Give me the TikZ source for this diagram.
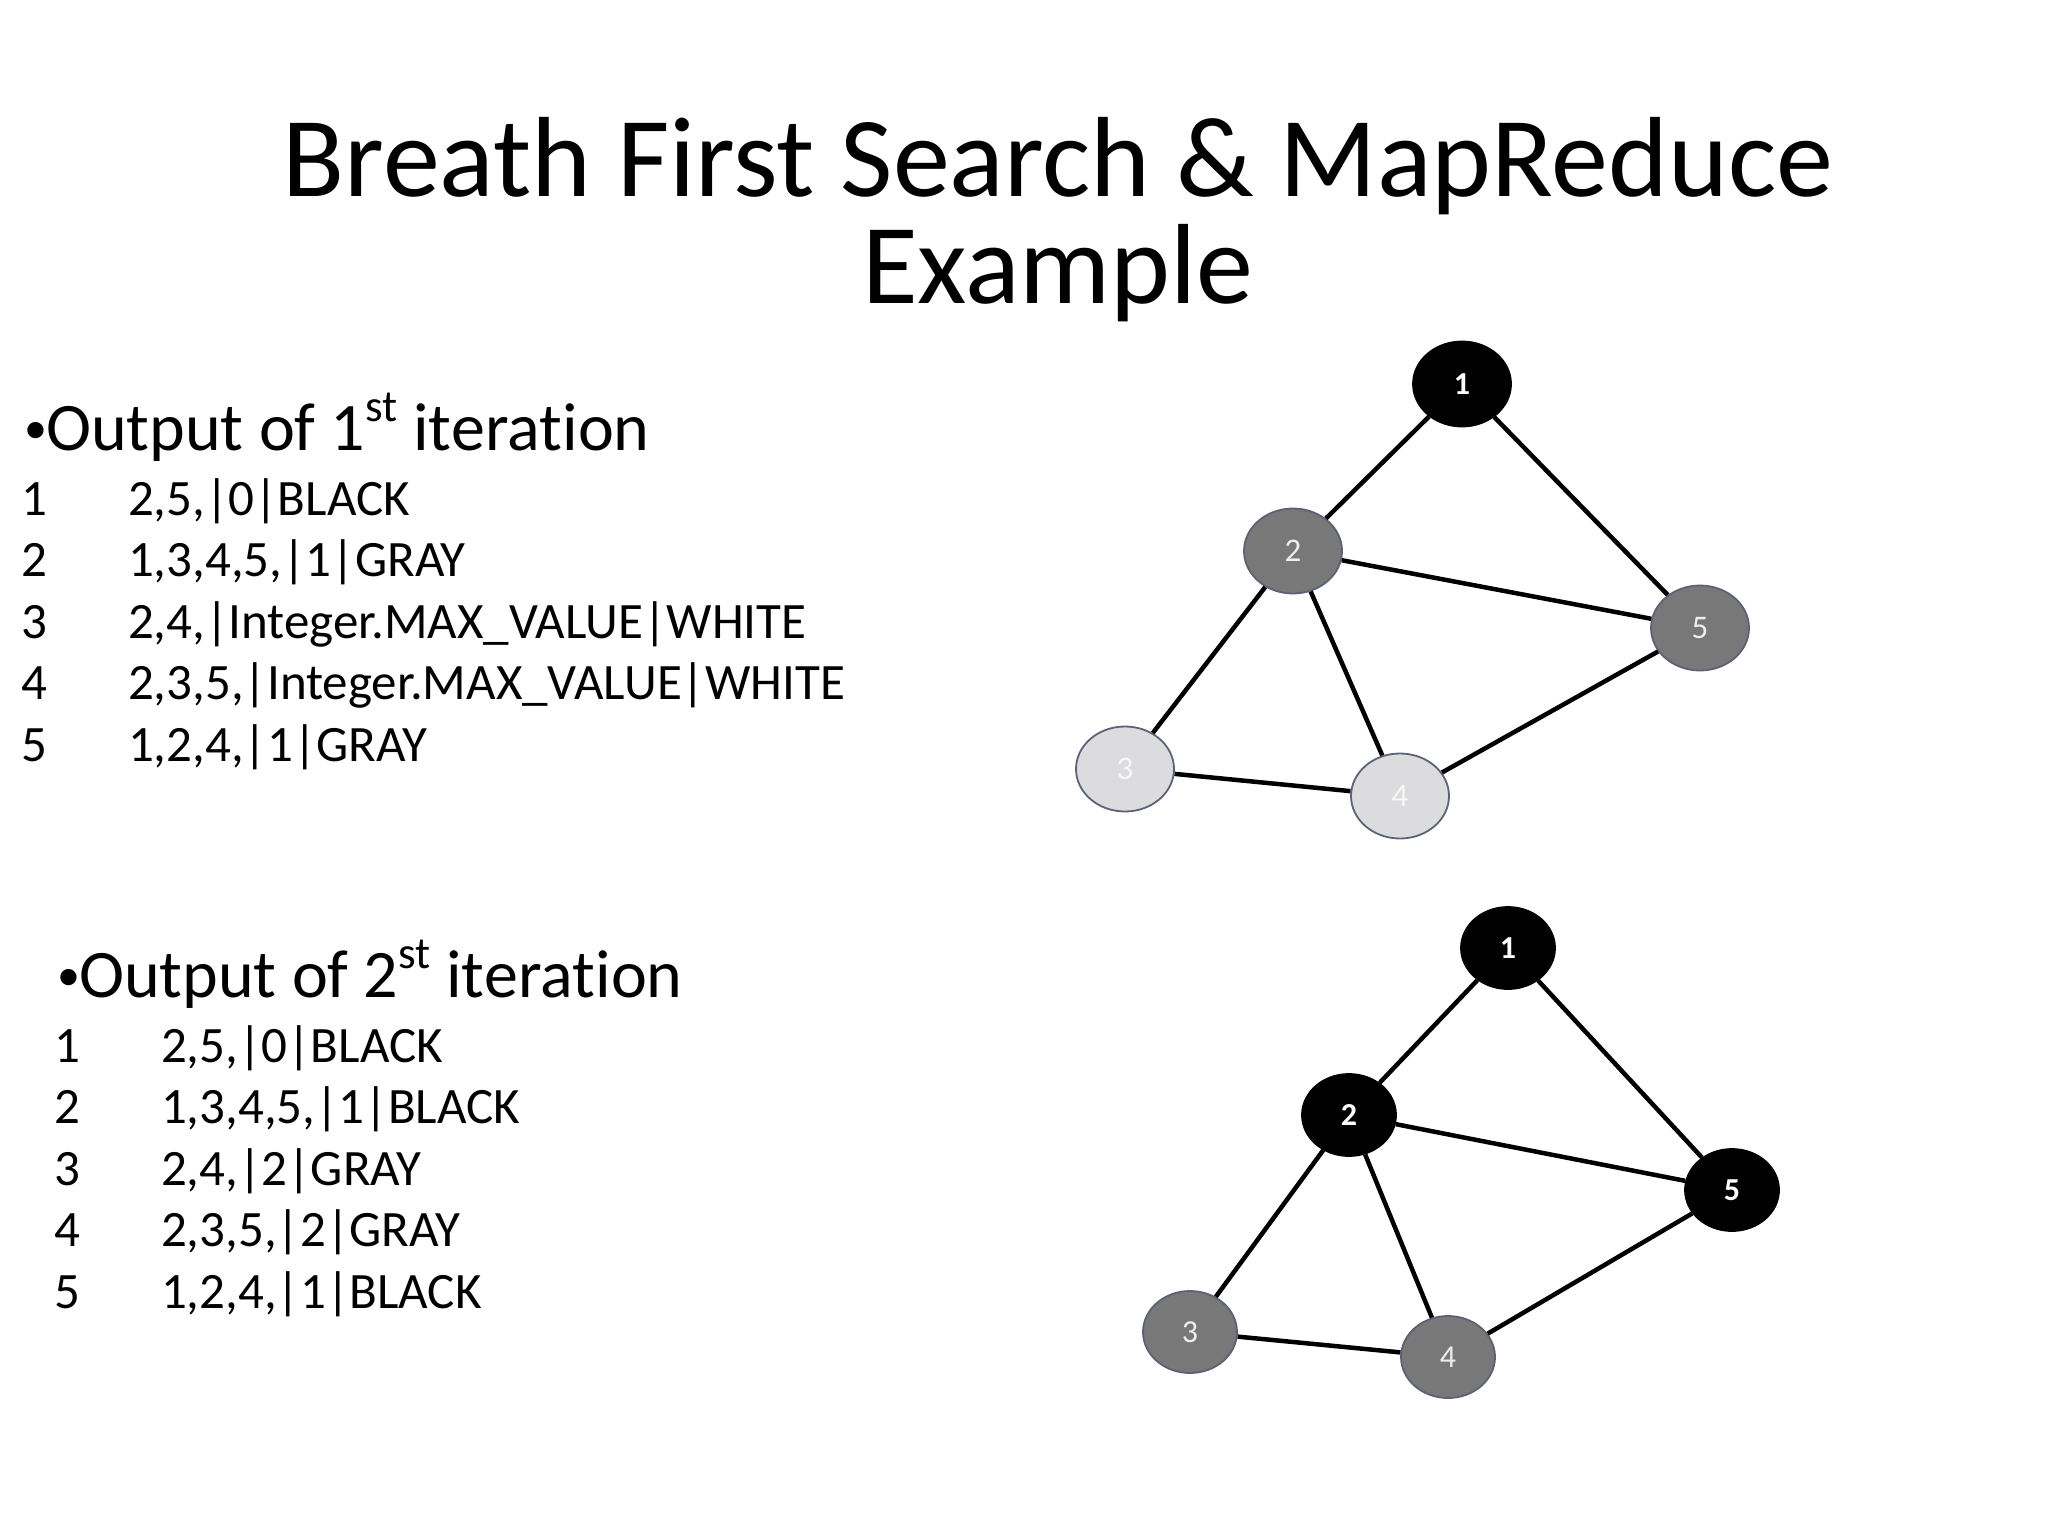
\documentclass[tikz,border=0pt]{standalone}
\usepackage{fontspec}
\setmainfont{Carlito}[Ligatures={NoCommon,NoContextual},Contextuals={NoAlternate}]
\usetikzlibrary{shapes.geometric}
\definecolor{nodegray}{HTML}{787878}
\definecolor{nodelight}{HTML}{DCDCDE}
\definecolor{rimgray}{HTML}{5B6274}
\definecolor{rimlight}{HTML}{5A6479}
\definecolor{labgray}{HTML}{EEEEEE}
\definecolor{lablight}{HTML}{F7F7F7}
\newcommand{\mybul}{\makebox[22pt][l]{\raisebox{7pt}{\fontsize{46}{46}\selectfont •}}}
\newcommand{\mysup}[1]{\raisebox{0.42em}{\fontsize{45}{45}\selectfont #1}}
\tikzset{
  txt/.style={inner sep=0pt, outer sep=0pt, anchor=base west},
  ttl/.style={inner sep=0pt, outer sep=0pt, anchor=base, font=\fontsize{114}{107}\selectfont},
  head/.style={txt, font=\fontsize{68}{68}\selectfont},
  row/.style={txt, font=\fontsize{51}{51}\selectfont},
  vnode/.style={ellipse, inner sep=0pt, minimum width=98pt, minimum height=85pt, line width=1.8pt, font=\fontsize{33}{33}\selectfont},
  vnodeb/.style={ellipse, inner sep=0pt, minimum width=94pt, minimum height=82pt, line width=1.8pt, font=\fontsize{32}{32}\selectfont},
  blk/.style={fill=black, draw=black, text=white, font=\fontsize{32}{32}\selectfont\bfseries},
  gry/.style={fill=nodegray, draw=rimgray, text=labgray},
  lgt/.style={fill=nodelight, draw=rimlight, text=lablight},
  edge/.style={line width=4.5pt, black}
}
\begin{document}
\begin{tikzpicture}[x=1pt, y=-1pt]
\useasboundingbox (0,0) rectangle (2048,1536);
\fill[white] (0,0) rectangle (2048,1536);

% title
\node[ttl] (t1) at (1058,196) {Breath First Search \& MapReduce};
\node[ttl] (t2) at (1058,303) {Example};

% first iteration
\node[head] (h1) at (24,450) {\mybul Output of 1\mysup{st} it\kern0pt eration};
\node[row] (a1) at (21,515) {1};
\node[row] (b1) at (128,515) {2,5,|0|BLACK};
\node[row] (a2) at (21,576.6) {2};
\node[row] (b2) at (128,576.6) {1,3,4,5,|1|GRAY};
\node[row] (a3) at (21,638.2) {3};
\node[row] (b3) at (128,638.2) {2,4,|Integer.MAX\_VALUE|WHITE};
\node[row] (a4) at (21,699.8) {4};
\node[row] (b4) at (128,699.8) {2,3,5,|Integer.MAX\_VALUE|WHITE};
\node[row] (a5) at (21,761.4) {5};
\node[row] (b5) at (128,761.4) {1,2,4,|1|GRAY};

% second iteration
\node[head] (h2) at (57,997) {\mybul Output of 2\mysup{st} it\kern0pt eration};
\node[row] (c1) at (54,1062) {1};
\node[row] (d1) at (161,1062) {2,5,|0|BLACK};
\node[row] (c2) at (54,1123.6) {2};
\node[row] (d2) at (161,1123.6) {1,3,4,5,|1|BLACK};
\node[row] (c3) at (54,1185.2) {3};
\node[row] (d3) at (161,1185.2) {2,4,|2|GRAY};
\node[row] (c4) at (54,1246.8) {4};
\node[row] (d4) at (161,1246.8) {2,3,5,|2|GRAY};
\node[row] (c5) at (54,1308.4) {5};
\node[row] (d5) at (161,1308.4) {1,2,4,|1|BLACK};

% graph 1
\node[vnode, blk] (p1) at (1462,384) {1};
\node[vnode, gry] (p2) at (1293,551) {2};
\node[vnode, gry] (p5) at (1700,628) {5};
\node[vnode, lgt] (p3) at (1125,769) {3};
\node[vnode, lgt] (p4) at (1400,796) {4};
\draw[edge] (p1) -- (p2);
\draw[edge] (p1) -- (p5);
\draw[edge] (p2) -- (p5);
\draw[edge] (p2) -- (p3);
\draw[edge] (p2) -- (p4);
\draw[edge] (p3) -- (p4);
\draw[edge] (p4) -- (p5);

% graph 2
\node[vnodeb, blk] (q1) at (1508,948) {1};
\node[vnodeb, blk] (q2) at (1349,1115) {2};
\node[vnodeb, blk] (q5) at (1732,1190) {5};
\node[vnodeb, gry] (q3) at (1190,1332) {3};
\node[vnodeb, gry] (q4) at (1448,1357) {4};
\draw[edge] (q1) -- (q2);
\draw[edge] (q1) -- (q5);
\draw[edge] (q2) -- (q5);
\draw[edge] (q2) -- (q3);
\draw[edge] (q2) -- (q4);
\draw[edge] (q3) -- (q4);
\draw[edge] (q4) -- (q5);
\end{tikzpicture}
\end{document}
